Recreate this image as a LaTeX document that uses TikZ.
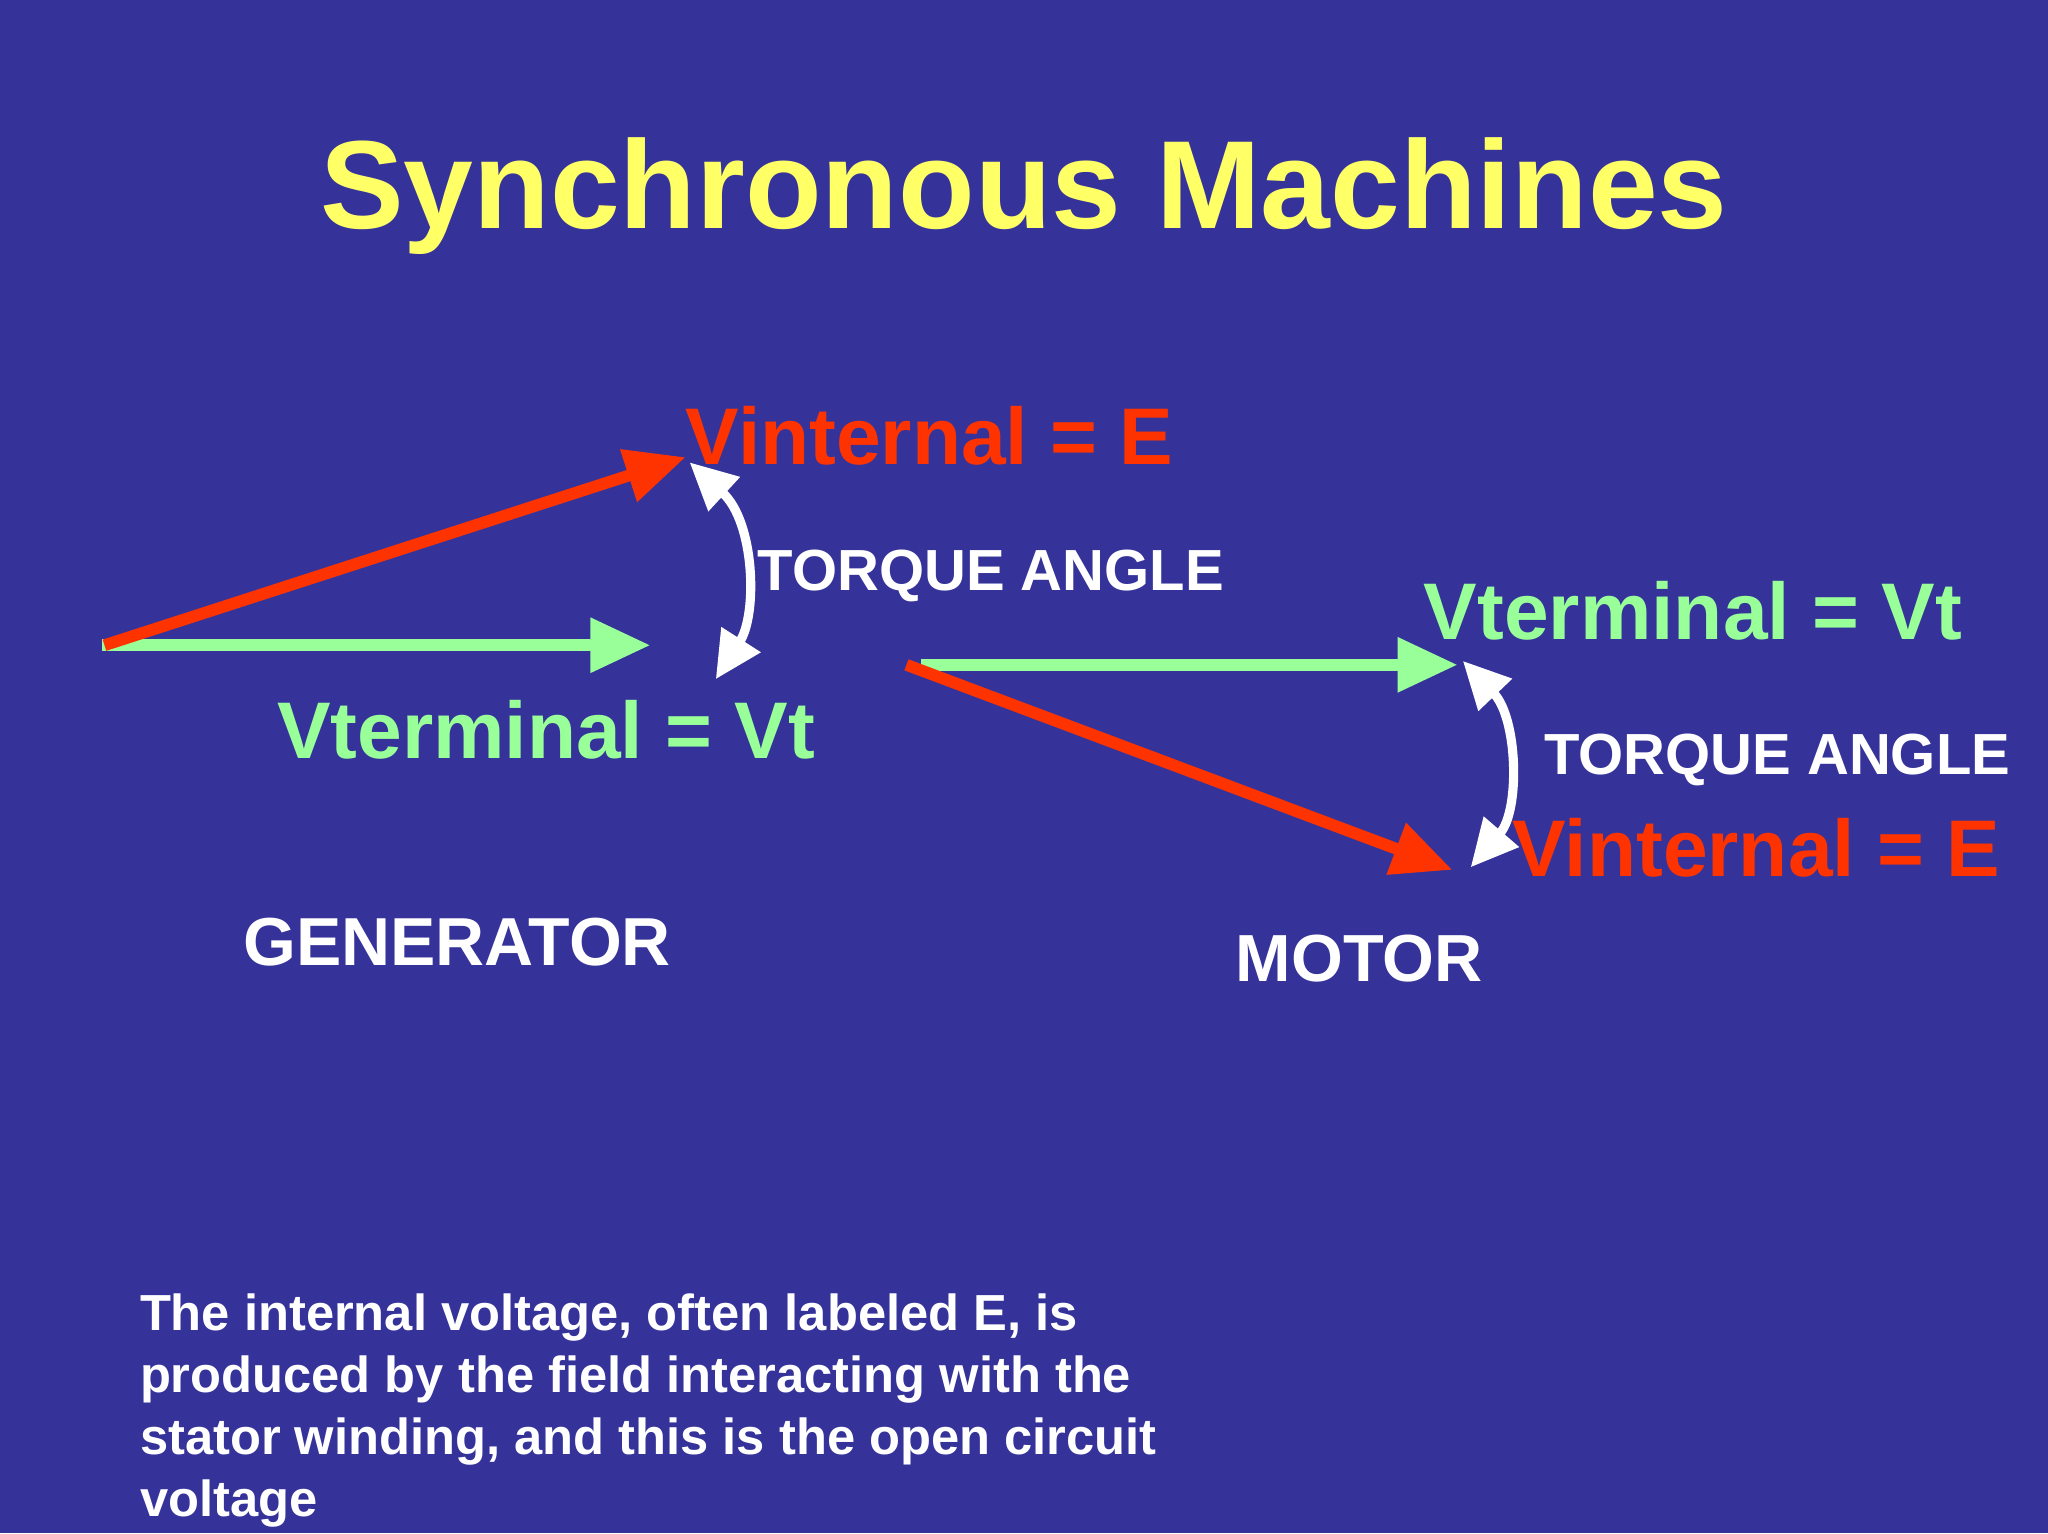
\documentclass[tikz,border=0pt]{standalone}
\usepackage{fontspec}
\setmainfont{Liberation Sans}
\usetikzlibrary{arrows.meta}
\definecolor{bg}{HTML}{35339A}
\definecolor{ttl}{HTML}{FFFF66}
\definecolor{rd}{HTML}{FF3300}
\definecolor{gr}{HTML}{99FF99}
\tikzset{
 vec/.style={line width=9pt,-{Triangle[length=46pt,width=40pt]}},
 ang/.style={white,line width=7pt,{Triangle[length=36pt,width=34pt]}-{Triangle[length=36pt,width=34pt]}},
 lbl/.style={font=\bfseries\fontsize{61.5}{70}\selectfont,anchor=west,inner sep=0pt},
 small/.style={font=\bfseries\fontsize{44.4}{50}\selectfont,anchor=west,inner sep=0pt,white},
}
\begin{document}
\begin{tikzpicture}[x=1pt,y=-1pt]
\fill[bg] (0,0) rectangle (1568,1174);
\useasboundingbox (0,0) rectangle (1568,1174);
\node[font=\bfseries\fontsize{96}{110}\selectfont,text=ttl] (title) at (784,150) {Synchronous Machines};
% generator
\coordinate (g0) at (80,494);
\coordinate (gE) at (525,350);
\coordinate (gV) at (498,494);
\draw[vec,gr] (78,494) -- (gV);
\draw[vec,rd] (g0) -- (gE);
\coordinate (ga) at (528,354);
\coordinate (gb) at (548,520);
\draw[ang] (ga) .. controls (578,400) and (580,470) .. (gb);
\node[lbl,text=rd] (gEl) at (525,334) {Vinternal = E};
\node[small] (gta) at (580,441) {TORQUE ANGLE};
\node[lbl,text=gr] (gVl) at (212,559) {Vterminal = Vt};
\node[font=\bfseries\fontsize{52}{56}\selectfont,white,anchor=west,inner sep=0pt] (gen) at (186,721) {GENERATOR};
% motor
\coordinate (m0) at (705,509);
\coordinate (mV) at (1116,509);
\coordinate (mE) at (1112,666);
\draw[vec,gr] (m0) -- (mV);
\draw[vec,rd] (694,509) -- (mE);
\coordinate (ma) at (1120,506);
\coordinate (mb) at (1126,664);
\draw[ang] (ma) .. controls (1162,550) and (1164,620) .. (mb);
\node[lbl,text=gr] (mVl) at (1090,468) {Vterminal = Vt};
\node[small] (mta) at (1182,582) {TORQUE ANGLE};
\node[lbl,text=rd] (mEl) at (1158,649) {Vinternal = E};
\node[font=\bfseries\fontsize{51}{56}\selectfont,white,anchor=west,inner sep=0pt] (mot) at (946,734) {MOTOR};
% bottom text
\node[anchor=north west,inner sep=0pt,white,font=\bfseries\fontsize{38.8}{47.5}\selectfont,align=left] (txt) at (107,990)
{The internal voltage, often labeled E, is\\produced by the field interacting with the\\stator winding, and this is the open circuit\\voltage};
\end{tikzpicture}
\end{document}
